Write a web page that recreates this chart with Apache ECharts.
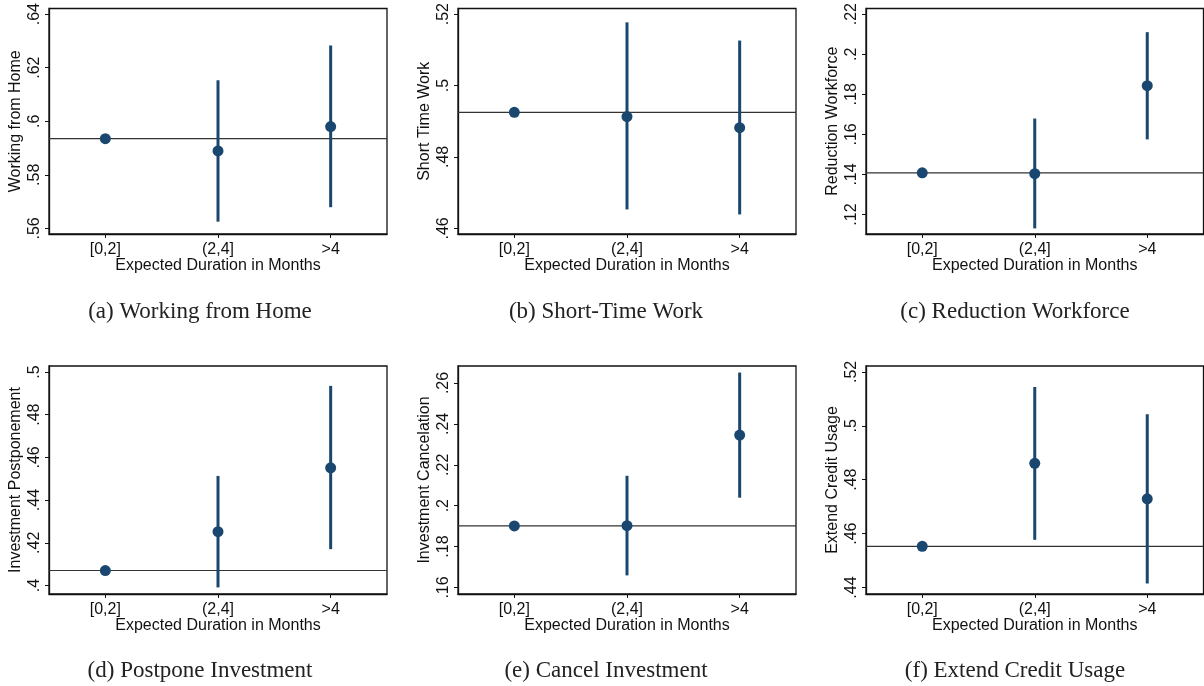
<!DOCTYPE html>
<html>
<head>
<meta charset="utf-8">
<script src="https://cdn.jsdelivr.net/npm/echarts@6/dist/echarts.min.js"></script>
<style>
html,body{margin:0;padding:0;background:#fff;}
#chart{width:1204px;height:686px;}
</style>
</head>
<body>
<div id="chart"></div>
<script>
// ---- data ----
const categories = ['[0,2]', '(2,4]', '>4'];
const xAxisTitle = 'Expected Duration in Months';

const panelNames = ['Working from Home', 'Short Time Work', 'Reduction Workforce',
                    'Investment Postponement', 'Investment Cancelation', 'Extend Credit Usage'];
const captions = ['(a) Working from Home', '(b) Short-Time Work', '(c) Reduction Workforce',
                  '(d) Postpone Investment', '(e) Cancel Investment', '(f) Extend Credit Usage'];

// point estimates
const estA = [0.5935, 0.5889, 0.5980];
const estB = [0.4925, 0.4913, 0.4882];
const estC = [0.1408, 0.1404, 0.1843];
const estD = [0.4070, 0.4252, 0.4551];
const estE = [0.1901, 0.1902, 0.2345];
const estF = [0.4553, 0.4861, 0.4729];

// confidence interval bounds (none for the reference category)
const loA = [null, 0.5625, 0.5679], hiA = [null, 0.6153, 0.6283];
const loB = [null, 0.4653, 0.4639], hiB = [null, 0.5177, 0.5126];
const loC = [null, 0.1131, 0.1575], hiC = [null, 0.1679, 0.2110];
const loD = [null, 0.3991, 0.4170], hiD = [null, 0.4513, 0.4935];
const loE = [null, 0.1659, 0.2039], hiE = [null, 0.2146, 0.2651];
const loF = [null, 0.4577, 0.4415], hiF = [null, 0.5144, 0.5043];

// y tick labels
const ticksA = [0.56, 0.58, 0.60, 0.62, 0.64];
const ticksB = [0.46, 0.48, 0.50, 0.52];
const ticksC = [0.12, 0.14, 0.16, 0.18, 0.20, 0.22];
const ticksD = [0.40, 0.42, 0.44, 0.46, 0.48, 0.50];
const ticksE = [0.16, 0.18, 0.20, 0.22, 0.24, 0.26];
const ticksF = [0.44, 0.46, 0.48, 0.50, 0.52];

// y axis ranges
const yMinAll = [0.5579, 0.45842, 0.1103, 0.3960, 0.1568, 0.4376];
const yMaxAll = [0.6421, 0.52158, 0.2228, 0.5028, 0.2683, 0.5222];

// ---- layout ----
const ests = [estA, estB, estC, estD, estE, estF];
const los = [loA, loB, loC, loD, loE, loF];
const his = [hiA, hiB, hiC, hiD, hiE, hiF];
const ticks = [ticksA, ticksB, ticksC, ticksD, ticksE, ticksF];

const gridLefts = [49, 458, 866];
const gridTops = [6, 366];
const gridW = [338, 338, 337.5];
const gridH = 228;
const captionX = [195, 601, 1010];
const captionY = [295, 654];

const NAVY = '#1a476f';
const FONT = '"Liberation Sans", Arial, sans-serif';

function fmt(v) {
  return String(+v.toFixed(4)).replace(/^0\./, '.');
}

const grids = [], xAxes = [], yAxes = [], series = [], titles = [];
for (let i = 0; i < 6; i++) {
  const col = i % 3, row = Math.floor(i / 3);
  grids.push({
    left: gridLefts[col], top: gridTops[row], width: gridW[col], height: gridH,
    show: true, borderColor: '#111', borderWidth: 1.3, backgroundColor: 'transparent',
    containLabel: false
  });
  xAxes.push({
    type: 'category', gridIndex: i, data: categories, boundaryGap: true,
    axisLine: { show: true, lineStyle: { color: '#111', width: 1.3 } },
    axisTick: { show: true, alignWithLabel: true, length: 4, lineStyle: { color: '#111' } },
    axisLabel: { color: '#111', fontSize: 16, fontFamily: FONT, margin: 8 },
    name: xAxisTitle, nameLocation: 'middle', nameGap: 23.5, nameMoveOverlap: false,
    nameTextStyle: { color: '#111', fontSize: 16, fontFamily: FONT },
    splitLine: { show: false }
  });
  yAxes.push({
    type: 'value', gridIndex: i, min: yMinAll[i], max: yMaxAll[i],
    axisLine: { show: true, lineStyle: { color: '#111', width: 1.3 } },
    axisTick: { show: true, length: 4, customValues: ticks[i], lineStyle: { color: '#111' } },
    axisLabel: { color: '#111', fontSize: 16, fontFamily: FONT, rotate: 90, margin: 6,
                 customValues: ticks[i], formatter: fmt },
    splitLine: { show: false },
    name: panelNames[i], nameLocation: 'middle', nameGap: 25, nameMoveOverlap: false,
    nameTextStyle: { color: '#111', fontSize: 16, fontFamily: FONT }
  });
  // reference line at the [0,2] estimate, across the whole plot region
  series.push({
    type: 'custom', xAxisIndex: i, yAxisIndex: i, z: 2, silent: true,
    data: [[0, ests[i][0]]],
    renderItem: function (params, api) {
      const p = api.coord([api.value(0), api.value(1)]);
      const cs = params.coordSys;
      return { type: 'line', shape: { x1: cs.x, y1: p[1], x2: cs.x + cs.width, y2: p[1] },
               style: { stroke: '#333', lineWidth: 1.2 } };
    }
  });
  const ciData = [];
  for (let k = 0; k < categories.length; k++) {
    if (los[i][k] != null) ciData.push([k, los[i][k], his[i][k]]);
  }
  series.push({
    type: 'custom', xAxisIndex: i, yAxisIndex: i, z: 3, silent: true,
    data: ciData,
    renderItem: function (params, api) {
      const p1 = api.coord([api.value(0), api.value(1)]);
      const p2 = api.coord([api.value(0), api.value(2)]);
      return { type: 'line', shape: { x1: p1[0], y1: p1[1], x2: p2[0], y2: p2[1] },
               style: { stroke: NAVY, lineWidth: 3 } };
    }
  });
  series.push({
    type: 'scatter', xAxisIndex: i, yAxisIndex: i, z: 4, silent: true,
    data: ests[i].map((v, k) => [k, v]),
    symbol: 'circle', symbolSize: 11,
    itemStyle: { color: NAVY, opacity: 1 }
  });
  titles.push({
    text: captions[i], left: captionX[col], top: captionY[row], textAlign: 'center',
    textStyle: { fontFamily: '"Liberation Serif", "Times New Roman", serif', fontWeight: 'normal',
                 fontSize: 23, color: '#222' }
  });
}

const chart = echarts.init(document.getElementById('chart'), null, { renderer: 'canvas' });
chart.setOption({
  animation: false,
  backgroundColor: '#fff',
  title: titles,
  grid: grids,
  xAxis: xAxes,
  yAxis: yAxes,
  series: series
});
</script>
</body>
</html>
